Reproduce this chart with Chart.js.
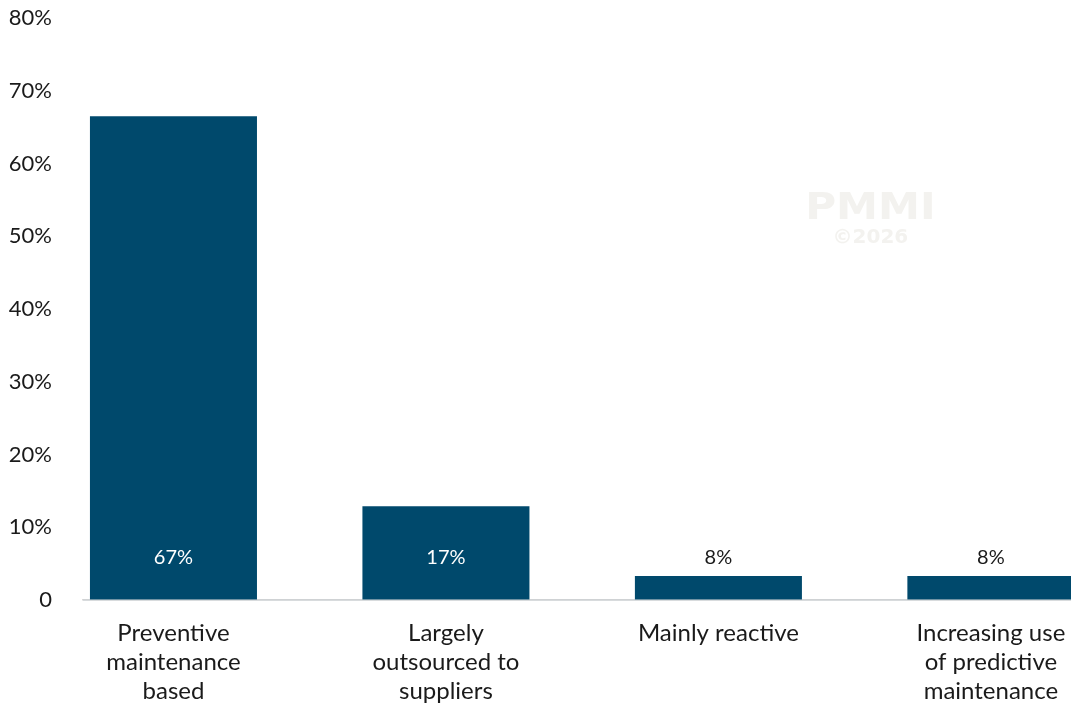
<!DOCTYPE html>
<html>
<head>
<meta charset="utf-8">
<script src="https://cdn.jsdelivr.net/npm/chart.js@4.4.1/dist/chart.umd.min.js"></script>
<style>
  html, body { margin: 0; padding: 0; background: #ffffff; overflow: hidden; }
  #wrap { position: relative; width: 1071px; height: 704px; }
</style>
</head>
<body>
<div id="wrap"><canvas id="c" width="1071" height="704"></canvas></div>
<script>
// ---- data ----
const categories = [
  ["Preventive", "maintenance", "based"],
  ["Largely", "outsourced to", "suppliers"],
  ["Mainly reactive"],
  ["Increasing use", "of predictive", "maintenance"]
];
const barValues = [66.5, 12.9, 3.3, 3.3];          // bar heights as drawn
const valueLabels = ["67%", "17%", "8%", "8%"];    // labels as printed
const yTicks = [0, 10, 20, 30, 40, 50, 60, 70, 80];

const BAR_COLOR = "#00496c";
const FONT = "Lato, 'Noto Sans', sans-serif";

const watermark = {
  id: "watermark",
  beforeDatasetsDraw(chart) {
    const ctx = chart.ctx;
    const a = chart.chartArea;
    const cx = a.left + (a.right - a.left) * 0.797;
    const cy = a.top + (a.bottom - a.top) * 0.325;
    ctx.save();
    ctx.fillStyle = "#f3f2ef";
    ctx.textAlign = "center";
    ctx.textBaseline = "middle";
    ctx.save();
    ctx.translate(cx, cy + 2);
    ctx.scale(1.14, 1);
    ctx.font = "bold 37px 'DejaVu Sans', sans-serif";
    ctx.fillText("PMMI", 0, 0);
    ctx.restore();
    ctx.font = "bold 20px 'DejaVu Sans', sans-serif";
    ctx.fillText("\u00A92026", cx, cy + 31);
    ctx.restore();
  }
};

const valueLabelPlugin = {
  id: "valueLabels",
  afterDatasetsDraw(chart) {
    const ctx = chart.ctx;
    const meta = chart.getDatasetMeta(0);
    const yScale = chart.scales.y;
    const zeroY = yScale.getPixelForValue(0);
    ctx.save();
    ctx.strokeStyle = "rgba(200,205,210,0.75)";
    ctx.lineWidth = 1.5;
    ctx.beginPath();
    ctx.moveTo(chart.chartArea.left, zeroY);
    ctx.lineTo(chart.chartArea.right, zeroY);
    ctx.stroke();
    ctx.font = "20px " + FONT;
    ctx.textAlign = "center";
    ctx.textBaseline = "middle";
    meta.data.forEach((bar, i) => {
      const h = zeroY - bar.y;
      let y, color;
      if (h > 60) { y = zeroY - 42; color = "#ffffff"; }
      else { y = bar.y - 18; color = "#1a1a1a"; }
      ctx.fillStyle = color;
      ctx.fillText(valueLabels[i], bar.x, y);
    });
    ctx.restore();
  }
};

new Chart(document.getElementById("c"), {
  type: "bar",
  data: {
    datasets: [{
      data: barValues.map((v, i) => ({ x: i, y: v })),
      backgroundColor: BAR_COLOR,
      borderWidth: 0,
      base: -0.2,
      barPercentage: 0.613,
      categoryPercentage: 1
    }]
  },
  options: {
    responsive: false,
    animation: false,
    devicePixelRatio: 1,
    layout: { padding: { top: 18, right: 0, left: 0, bottom: 0 } },
    plugins: { legend: { display: false }, tooltip: { enabled: false } },
    scales: {
      x: {
        type: "linear",
        offset: false,
        min: -0.332,
        max: 3.294,
        grid: { display: false, drawTicks: false, offset: false },
        border: { display: true, color: "#d9d9d9", width: 1.5 },
        afterBuildTicks(scale) { scale.ticks = categories.map((c, i) => ({ value: i })); },
        afterFit(scale) { scale.height = 104; scale.paddingLeft = 0; scale.paddingRight = 0; },
        ticks: {
          autoSkip: false,
          maxRotation: 0,
          minRotation: 0,
          padding: 19,
          color: "#1a1a1a",
          font: { family: FONT, size: 24, lineHeight: 1.21 },
          callback: (v) => categories[v]
        }
      },
      y: {
        min: 0,
        max: 80,
        grid: { display: true, drawOnChartArea: false, drawTicks: true, tickLength: 31, tickColor: "rgba(0,0,0,0)" },
        border: { display: false },
        afterBuildTicks(scale) { scale.ticks = yTicks.map(v => ({ value: v })); },
        afterFit(scale) { scale.width = 83; },
        ticks: {
          padding: 0,
          color: "#1a1a1a",
          font: { family: FONT, size: 22 },
          callback: (v) => v === 0 ? "0" : v + "%"
        }
      }
    }
  },
  plugins: [watermark, valueLabelPlugin]
});
</script>
</body>
</html>
